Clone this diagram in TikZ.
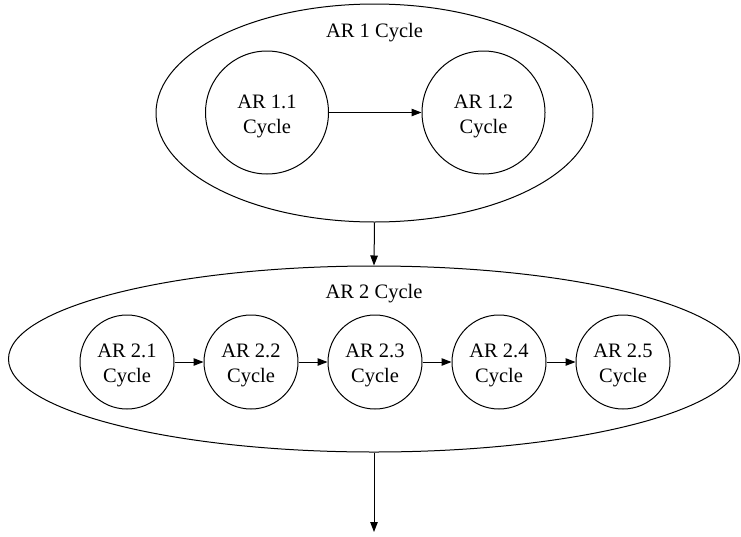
\documentclass[tikz,border=0pt]{standalone}
\usepackage{fontspec}
\setmainfont{Liberation Serif}
\usetikzlibrary{arrows.meta,shapes.geometric}
\begin{document}
\begin{tikzpicture}[x=1pt,y=-1pt,
  line width=1pt,
  txt/.style={font=\fontsize{20.5}{25}\selectfont, align=center, inner sep=0pt},
  cyc/.style={draw, circle, inner sep=0pt, minimum size=#1},
  cyc/.default=123pt,
  outer/.style={draw, ellipse, inner sep=0pt},
  arr/.style={-{Triangle[length=10pt,width=7.5pt]}}
]
\useasboundingbox (0,0) rectangle (741,536);
% outer ellipses
\node[outer, minimum width=437pt, minimum height=218pt] (e1) at (374.5,113) {};
\node[outer, minimum width=731pt, minimum height=186pt] (e2) at (374,359) {};
\node[txt, anchor=base] (l1) at (374.5,37.7) {AR 1 Cycle};
\node[txt, anchor=base] (l2) at (374,298.3) {AR 2 Cycle};
% AR 1 circles
\node[cyc] (c11) at (267,112.5) {};
\node[cyc] (c12) at (483.5,112.5) {};
\node[txt] (t11) at ([yshift=-3.7pt]c11.center) {AR 1.1\\Cycle};
\node[txt] (t12) at ([yshift=-3.7pt]c12.center) {AR 1.2\\Cycle};
% AR 2 circles
\foreach \i/\x in {1/127,2/251,3/375,4/499,5/623}{
  \node[cyc=94pt] (c2\i) at (\x,362) {};
  \node[txt] (t2\i) at ([yshift=-3.7pt]c2\i.center) {AR 2.\i\\Cycle};
}
% connectors
\draw[arr] (c11) -- (c12);
\draw[arr] (c21) -- (c22);
\draw[arr] (c22) -- (c23);
\draw[arr] (c23) -- (c24);
\draw[arr] (c24) -- (c25);
\draw[arr] (e1.south) -- (e2.north);
\coordinate (end) at (374,532);
\draw[arr] (e2.south) -- (end);
\end{tikzpicture}
\end{document}
